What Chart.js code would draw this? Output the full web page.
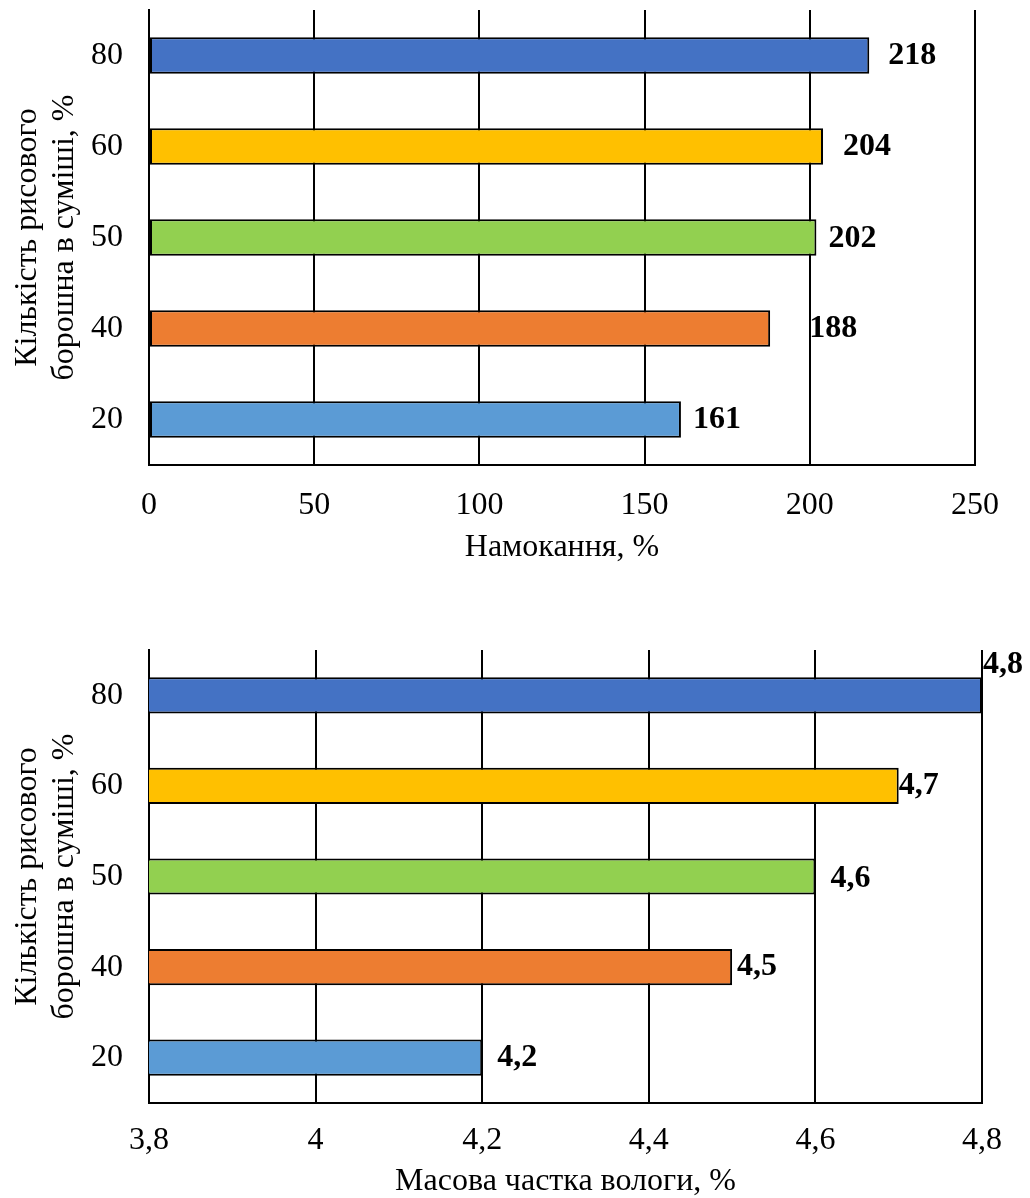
<!DOCTYPE html>
<html>
<head>
<meta charset="utf-8">
<title>Намокання та масова частка вологи</title>
<script src="https://cdn.jsdelivr.net/npm/chart.js@4/dist/chart.umd.min.js"></script>
<style>
  body { margin: 0; background: #fff; }
  canvas { display: block; }
</style>
</head>
<body>
<canvas id="soakChart" width="1030" height="565"></canvas>
<canvas id="moistureChart" width="1030" height="633"></canvas>
<script>
// Data
const riceShares = ['80', '60', '50', '40', '20'];
const soakValues = [218, 204, 202, 188, 161];
const moistureValues = [4.8, 4.7, 4.6, 4.5, 4.2];
const soakTicks = [0, 50, 100, 150, 200, 250];
const moistureTicks = [3.8, 4.0, 4.2, 4.4, 4.6, 4.8];
const barColors = ['#4472C4', '#FFC000', '#92D050', '#ED7D31', '#5B9BD5'];
const yTitle = ['Кількість рисового', 'борошна в суміші, %'];

// label nudges (px) so the value labels sit where Excel put them
const soakLabelOffsets = [[19, 0], [20, 0], [12, 1], [39, 0], [12, 0]];
const moistureLabelOffsets = [[1, -31], [0, 0], [15, 2], [5, 0], [15, 0]];

const FONT = '"Liberation Serif", "Times New Roman", serif';
Chart.defaults.color = '#000';
Chart.defaults.font.family = FONT;

// Draws the bold value next to each bar
function makeLabelPlugin(offsets, useComma) {
  return {
    id: 'valueLabels',
    afterDatasetsDraw(chart) {
      const ctx = chart.ctx;
      const meta = chart.getDatasetMeta(0);
      const values = chart.data.datasets[0].data;
      ctx.save();
      ctx.font = 'bold 32px ' + FONT;
      ctx.fillStyle = '#000';
      ctx.textAlign = 'left';
      ctx.textBaseline = 'middle';
      meta.data.forEach((bar, i) => {
        const text = useComma ? values[i].toFixed(1).replace('.', ',') : String(values[i]);
        ctx.fillText(text, bar.x + offsets[i][0], bar.y + offsets[i][1]);
      });
      ctx.restore();
    },
  };
}

function formatTick(v) {
  return String(Number(v.toFixed(1))).replace('.', ',');
}

// Build one horizontal bar chart
function buildChart(id, values, ticks, axisTitle, cfg) {
  const ctx = document.getElementById(id).getContext('2d');
  return new Chart(ctx, {
    type: 'bar',
    data: {
      labels: riceShares,
      datasets: [
        {
          data: values,
          backgroundColor: barColors,
          borderColor: '#000',
          borderWidth: 2,
          borderSkipped: false,
          barPercentage: 0.4,
          categoryPercentage: 1.0,
        },
      ],
    },
    options: {
      indexAxis: 'y',
      responsive: false,
      animation: false,
      layout: { padding: { top: cfg.top, right: cfg.right, left: 0, bottom: 0 } },
      plugins: { legend: { display: false }, tooltip: { enabled: false } },
      scales: {
        x: {
          type: 'linear',
          min: ticks[0],
          max: ticks[ticks.length - 1],
          afterBuildTicks: (scale) => {
            scale.ticks = ticks.map((v) => ({ value: v }));
          },
          afterFit: (scale) => {
            scale.height = cfg.xHeight;
          },
          grid: { color: '#000', lineWidth: 2, drawTicks: false },
          border: { display: true, color: '#000', width: 2 },
          ticks: {
            padding: cfg.tickPad,
            font: { size: 32 },
            maxRotation: 0,
            callback: (v) => formatTick(v),
          },
          title: {
            display: true,
            text: axisTitle,
            font: { size: 32, lineHeight: 1.0 },
            padding: { top: 0, bottom: cfg.titlePad },
          },
        },
        y: {
          afterFit: (scale) => {
            scale.width = 149;
            // don't let the tick labels push the plot down
            scale.paddingTop = 0;
            scale.paddingBottom = 0;
          },
          grid: { display: false },
          border: { display: true, color: '#000', width: 2 },
          ticks: { padding: 18, font: { size: 32 } },
          title: {
            display: true,
            text: yTitle,
            font: { size: 32, lineHeight: 1.16 },
            padding: { top: 9, bottom: 0 },
          },
        },
      },
    },
    plugins: [makeLabelPlugin(cfg.offsets, cfg.comma)],
  });
}

buildChart('soakChart', soakValues, soakTicks, 'Намокання, %', {
  top: 10, right: 55, xHeight: 100, tickPad: 21, titlePad: 1,
  offsets: soakLabelOffsets, comma: false,
});

buildChart('moistureChart', moistureValues, moistureTicks, 'Масова частка вологи, %', {
  top: 85, right: 48, xHeight: 95, tickPad: 18, titlePad: 0,
  offsets: moistureLabelOffsets, comma: true,
});
</script>
</body>
</html>
